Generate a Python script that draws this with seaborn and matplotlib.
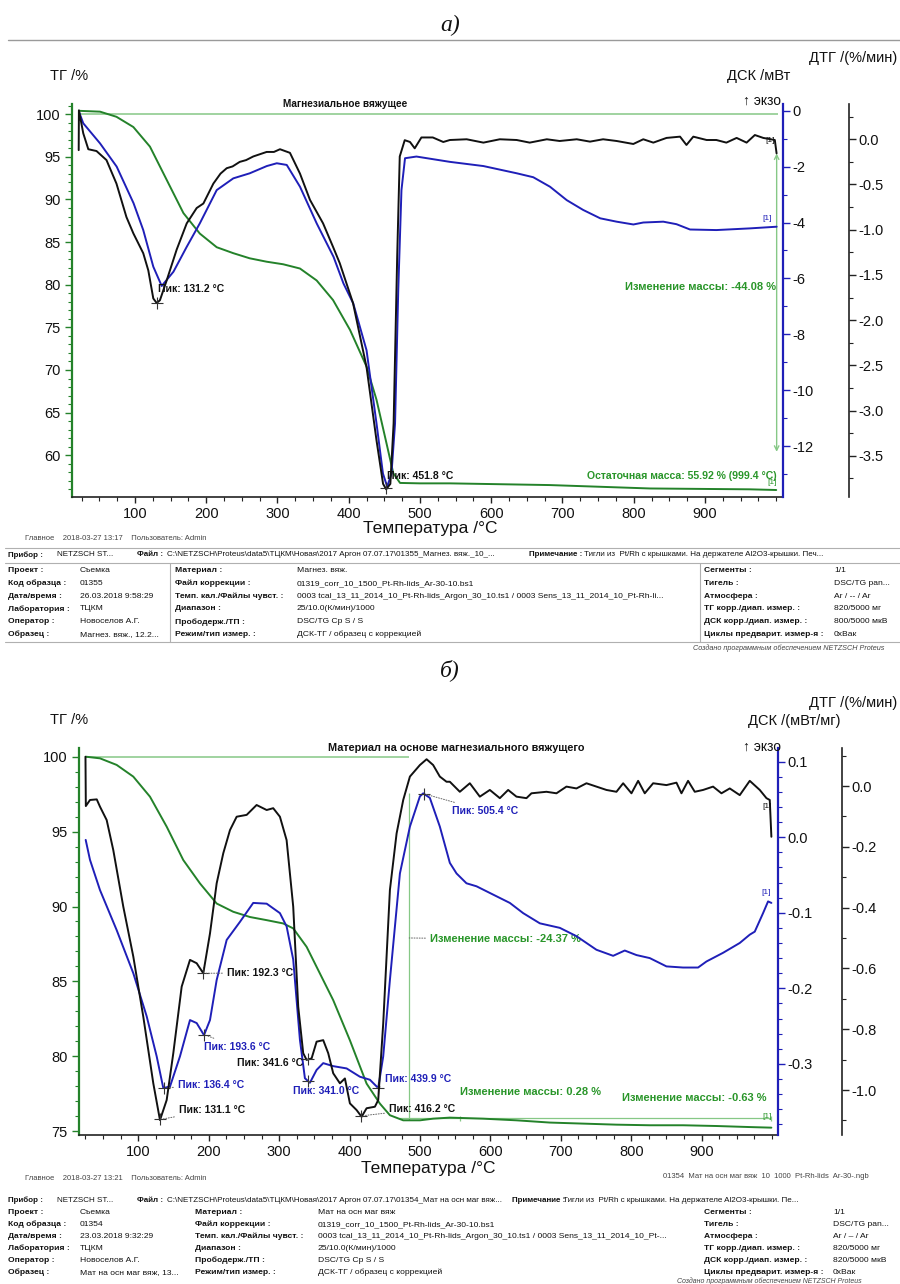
import numpy as np
import matplotlib
matplotlib.use("Agg")
import matplotlib.pyplot as plt
import seaborn as sns
from matplotlib.ticker import MultipleLocator, FixedLocator, FormatStrFormatter
from matplotlib.lines import Line2D

# ================= DATA: panel a) =================
A_TG_T = [21.4, 51, 74, 97.7, 121, 144.5, 168, 191, 214.7, 238, 261, 284.8, 308, 331.6, 355, 378,
          401.8, 425, 439, 453, 462.5, 472, 500, 542, 682, 823, 963, 1000]
A_TG = [100.4, 100.3, 99.7, 98.5, 96.2, 92.3, 88.4, 86.0, 84.4, 83.7, 83.1, 82.7, 82.4, 81.9, 80.5, 78.2,
        74.7, 70.4, 66.5, 61.4, 57.9, 56.75, 56.7, 56.7, 56.5, 56.1, 56.0, 55.92]

A_DSC_T = [21.4, 27.4, 51, 74.3, 98, 111.6, 125.7, 137.5, 154, 172.6, 191, 214.7, 238, 261, 285, 299,
           313, 331.6, 355, 378.7, 392.6, 406.4, 425, 439, 448, 454, 460, 465, 469.5, 474, 479, 495,
           542, 589, 636, 659, 682.5, 706, 729, 753, 776, 799.5, 813.4, 841.5, 860, 879, 916, 963, 1000.6]
A_DSC = [-0.04, -0.45, -1.17, -2.0, -3.31, -4.27, -5.58, -6.27, -5.76, -4.87, -4.03, -2.84, -2.42, -2.24,
         -1.98, -1.88, -1.94, -2.72, -4.03, -5.23, -6.18, -6.9, -8.57, -11.19, -12.98, -13.45, -12.98,
         -11.19, -6.42, -2.84, -1.70, -1.64, -1.83, -1.98, -2.24, -2.38, -2.72, -3.2, -3.55, -3.85, -3.97,
         -4.07, -4.0, -3.97, -4.06, -4.25, -4.27, -4.21, -4.15]

A_DTG_T = [21.0, 21.3, 27.4, 34.5, 46, 60, 74, 88, 97.7, 111.6, 118.7, 125.7, 130.4, 135, 144.5, 158.5,
           172.6, 186.6, 196, 210, 220, 228.7, 237, 247, 256, 266, 284.8, 295, 303.5, 317.5, 331.6,
           345.6, 364, 378, 387.4, 406, 425, 439, 448.2, 452.6, 458.4, 463, 468, 471.6, 478.6, 486,
           492.6, 502, 518, 532.7,
           542, 565.5, 589, 612, 635.7, 654, 678, 696, 720, 738.6, 757, 776, 799.4, 813.4, 827.5, 846,
           865, 874, 883.6, 902.3, 916, 930, 944.4, 958.4, 970, 981.8, 998, 1000.5]
A_DTG = [-0.12, 0.32, 0.066, -0.11, -0.13, -0.23, -0.49, -0.86, -1.04, -1.26, -1.45, -1.76, -1.81, -1.78,
         -1.56, -1.22, -0.93, -0.76, -0.71, -0.49, -0.38, -0.32, -0.30, -0.25, -0.23, -0.19, -0.14, -0.14,
         -0.11, -0.15, -0.38, -0.67, -0.93, -1.19, -1.37, -1.81, -2.52, -3.33, -3.81, -3.87, -3.81,
         -3.14, -1.30, -0.19, -0.01, -0.03, -0.10, 0.02, 0.02, -0.03,
         -0.008, 0.0, -0.037, 0.0, -0.008, -0.037, 0.0, -0.019, 0.0, -0.026, 0.0, -0.019, -0.052, 0.0,
         -0.037, 0.015, 0.029, -0.063, 0.029, -0.008, -0.008, -0.037, 0.015, -0.037, 0.047, 0.015,
         -0.008, -0.156]

A_DTG_PEAKS = [131.2, 451.8]
A_MASS_CHANGE = -44.08
A_RESIDUAL = 55.92
A_RESIDUAL_T = 999.4

# ================= DATA: panel б) =================
B_TG_T = [25.3, 45.6, 69.3, 92.9, 116.6, 140.3, 163.9, 187.6, 211.3, 234.8, 258.5, 282.3, 305.8, 320,
          339, 357.9, 376.8, 400.5, 424.2, 443, 457.3, 476.2, 500, 518.7, 542.4, 589.7, 637, 684.4,
          731.7, 779, 826.3, 873.6, 921, 968.3, 999]
B_TG = [100.0, 99.89, 99.45, 98.67, 97.33, 95.33, 93.1, 91.54, 90.2, 89.65, 89.3, 89.09, 88.87, 88.54,
        87.31, 85.53, 83.75, 81.07, 78.18, 76.85, 76.07, 75.73, 75.73, 75.84, 75.91, 75.84, 75.73, 75.58,
        75.51, 75.44, 75.40, 75.40, 75.35, 75.28, 75.24]

B_DSC_T = [25.3, 31.4, 45.6, 69.3, 92.9, 111.9, 126.1, 135.5, 145, 159.2, 173.4, 182.9, 193.3, 201.8,
           211.3, 225.5, 244.4, 263.2, 282.3, 301.1, 310.6, 320, 329.5, 336.6, 343.7, 353.2, 362.6,
           376.8, 395.8, 414.7, 428.9, 440.7, 447.8, 457.3, 471.5, 485.7, 499.9, 504.6, 514, 528.2,
           542.4, 551.9, 566, 580.3, 603.9, 627.6, 646.5, 670.2, 698.6, 722.2, 750.6, 774.3, 790.8,
           807.4, 826.3, 850, 873.6, 894.9, 906.8, 930.4, 954.1, 968.3, 975.4, 987.2, 994.3, 999]
B_DSC = [-0.0036, -0.030, -0.070, -0.123, -0.180, -0.237, -0.290, -0.332, -0.330, -0.290, -0.242,
         -0.246, -0.262, -0.242, -0.189, -0.136, -0.112, -0.087, -0.088, -0.1005, -0.118, -0.162,
         -0.268, -0.319, -0.325, -0.308, -0.299, -0.303, -0.306, -0.317, -0.321, -0.332, -0.290,
         -0.189, -0.048, 0.014, 0.054, 0.058, 0.052, 0.014, -0.034, -0.048, -0.061, -0.065, -0.076,
         -0.087, -0.1005, -0.114, -0.120, -0.131, -0.149, -0.157, -0.150, -0.156, -0.160, -0.171,
         -0.1725, -0.1725, -0.1645, -0.153, -0.140, -0.129, -0.125, -0.1005, -0.085, -0.087]

B_DTG_T = [25.0, 25.5, 31.4, 41, 45.6, 55.1, 64.5, 78.7, 92.9, 107.1, 121.3, 130.8, 140.3, 149.7, 161.6,
           173.4, 182.9, 192.3, 201.8, 211.3, 220.7, 230.2, 239.7, 253.9, 268, 282.3, 291.6, 301.1,
           310.6, 320, 327.1, 334.2, 339, 346.1, 353.2, 362.6, 369.7, 376.8, 386.3, 393.4, 400.5, 410,
           417.1, 424.2, 436, 440.7, 447.8, 457.3, 466.8, 476.2, 485.7, 499.9, 509.4, 518.7, 528.2,
           537.7, 542.4, 556.6, 570.8, 585, 599.2, 613.4, 625.2, 637, 651.2, 658.3, 679.6, 693.8, 708,
           722.2, 736.4, 750.6, 764.8, 779, 788.5, 800.3, 809.8, 819.2, 831.1, 850, 864.2, 871.3, 880.7,
           890.2, 902, 916.2, 928.1, 939.9, 954.1, 968.3, 982.5, 992, 996.7, 999]
B_DTG = [0.096, -0.066, -0.046, -0.044, -0.068, -0.112, -0.211, -0.397, -0.561, -0.759, -0.978, -1.099,
         -1.033, -0.879, -0.660, -0.572, -0.583, -0.616, -0.485, -0.320, -0.221, -0.145, -0.101, -0.095,
         -0.0625, -0.079, -0.073, -0.101, -0.178, -0.397, -0.726, -0.879, -0.901, -0.896, -0.841,
         -0.836, -0.879, -0.945, -0.978, -0.962, -1.044, -1.066, -1.088, -1.060, -1.055, -1.033,
         -0.781, -0.342, -0.156, -0.046, 0.031, 0.069, 0.088, 0.069, 0.031, 0.014, 0.014, -0.019,
         0.009, -0.035, -0.013, -0.040, -0.013, -0.035, -0.040, -0.024, -0.019, -0.024, -0.002,
         -0.008, 0.009, -0.002, -0.013, -0.019, 0.009, -0.024, 0.017, -0.024, 0.009, 0.003, 0.011,
         -0.024, 0.017, -0.019, -0.013, -0.002, -0.024, -0.008, -0.030, 0.017, -0.013, -0.040,
         -0.046, -0.167]

B_DTG_PEAKS = [131.1, 192.3, 341.6, 416.2]
B_DSC_PEAKS = [136.4, 193.6, 341.0, 439.9, 505.4]
B_MASS_CHANGES = [-24.37, 0.28, -0.63]

X_TICKS = [100, 200, 300, 400, 500, 600, 700, 800, 900]

# ================= STYLE =================
sns.set_style("ticks")
plt.rcParams['font.family'] = ['Liberation Sans', 'DejaVu Sans']
plt.rcParams['axes.unicode_minus'] = False

W, H = 900, 1284
fig = plt.figure(figsize=(W / 100, H / 100), dpi=100)

BLACK = '#111111'
BLUE = '#1f1fb8'
GREEN = '#24822a'
LGREEN = '#86c886'
TGREEN = '#2a962a'
TXT = '#111111'


def fx(x):
    return x / W


def fy(y):
    return 1 - y / H


def ftext(x, y, s, **kw):
    kw.setdefault('va', 'center')
    kw.setdefault('color', TXT)
    return fig.text(fx(x), fy(y), s, **kw)


def fline(x0, y0, x1, y1, **kw):
    fig.add_artist(Line2D([fx(x0), fx(x1)], [fy(y0), fy(y1)], **kw))


def make_panel(l, t, r, b, xlim, tglim, dsclim, dtglim, dtg_x,
               tg_major, dsc_major, dsc_minor, dtg_major, dtg_minor, dsc_fmt):
    ax = fig.add_axes([fx(l), fy(b), (r - l) / W, (b - t) / H])
    ax2 = ax.twinx()
    ax3 = ax.twinx()
    for a in (ax, ax2, ax3):
        for s in a.spines.values():
            s.set_visible(False)
        a.set_facecolor('none')
    ax.spines['left'].set_visible(True)
    ax.spines['left'].set_color(GREEN)
    ax.spines['left'].set_linewidth(1.6)
    ax.spines['bottom'].set_visible(True)
    ax.spines['bottom'].set_color('#222222')
    ax.spines['bottom'].set_linewidth(1.2)
    ax2.spines['right'].set_visible(True)
    ax2.spines['right'].set_color(BLUE)
    ax2.spines['right'].set_linewidth(1.6)
    ax3.spines['right'].set_visible(True)
    ax3.spines['right'].set_color('#222222')
    ax3.spines['right'].set_linewidth(1.2)
    ax3.spines['right'].set_position(('axes', (dtg_x - l) / (r - l)))

    ax.set_xlim(*xlim)
    ax.set_ylim(*tglim)
    ax2.set_ylim(*dsclim)
    ax3.set_ylim(*dtglim)

    ax.xaxis.set_major_locator(FixedLocator(X_TICKS))
    ax.xaxis.set_minor_locator(MultipleLocator(25))
    ax.xaxis.set_major_formatter(FormatStrFormatter('%d'))
    ax.tick_params(axis='x', which='major', length=4, width=1, colors='#222222',
                   labelcolor=TXT, labelsize=10.5, pad=3)
    ax.tick_params(axis='x', which='minor', length=3, width=0.8, colors='#222222')

    ax.yaxis.set_major_locator(MultipleLocator(tg_major))
    ax.yaxis.set_minor_locator(MultipleLocator(1))
    ax.yaxis.set_major_formatter(FormatStrFormatter('%d'))
    ax.tick_params(axis='y', which='major', length=5, width=1, colors=GREEN,
                   labelcolor=TXT, labelsize=10.5, pad=3)
    ax.tick_params(axis='y', which='minor', length=3, width=0.8, colors=GREEN)

    ax2.yaxis.set_major_locator(MultipleLocator(dsc_major))
    ax2.yaxis.set_minor_locator(MultipleLocator(dsc_minor))
    ax2.yaxis.set_major_formatter(FormatStrFormatter(dsc_fmt))
    ax2.tick_params(axis='y', which='major', length=5, width=1, colors=BLUE,
                    labelcolor=TXT, labelsize=10.5, pad=2)
    ax2.tick_params(axis='y', which='minor', length=3, width=0.8, colors=BLUE)

    ax3.yaxis.set_major_locator(MultipleLocator(dtg_major))
    ax3.yaxis.set_minor_locator(MultipleLocator(dtg_minor))
    ax3.yaxis.set_major_formatter(FormatStrFormatter('%.1f'))
    ax3.tick_params(axis='y', which='major', length=5, width=1, colors='#222222',
                    labelcolor=TXT, labelsize=10.5, pad=2)
    ax3.tick_params(axis='y', which='minor', length=3, width=0.8, colors='#222222')
    return ax, ax2, ax3


def curve(a, xs, ys, color, lw=1.3):
    sns.lineplot(x=xs, y=ys, ax=a, color=color, lw=lw, sort=False, estimator=None)
    a.set_xlabel('')
    a.set_ylabel('')


def peak(a, xs, ys, t, color, text_xy, label_color, leader=True):
    v = float(np.interp(t, xs, ys))
    a.plot([t], [v], marker='+', ms=9, mew=0.8, color='#333333', ls='none', zorder=5)
    arrow = dict(arrowstyle='-', linestyle=':', lw=0.7, color='#666666', shrinkA=1, shrinkB=2) if leader else None
    a.annotate(f"Пик: {t:.1f} °C", xy=(t, v), xytext=(text_xy[0], H - text_xy[1]),
               textcoords='figure pixels', ha='left', va='center', fontsize=7.5,
               fontweight='bold', color=label_color, arrowprops=arrow, zorder=6)


TFS = 6.1
RFS = 5.8


def table(row0_y, row0, rows_y, cols_x, left, mid, right):
    for x, s, bold in row0:
        ftext(x, row0_y, s, ha='left', fontsize=RFS, fontweight='bold' if bold else 'normal')
    for i, yy in enumerate(rows_y):
        for (lx, vx), (lab, val) in zip(cols_x, [left[i], mid[i], right[i]]):
            ftext(lx, yy, lab, ha='left', fontsize=TFS, fontweight='bold')
            ftext(vx, yy, val, ha='left', fontsize=TFS)


# ================= PANEL a) =================
ftext(450, 25, "а)", ha='center', fontsize=17, family='Liberation Serif', style='italic')
fline(8, 40, 900, 40, color='#9a9a9a', lw=1)

axA, axA2, axA3 = make_panel(72, 104, 783, 497, (11.6, 1009.5), (55.1, 101.2), (-13.82, 0.24),
                             (-3.955, 0.39), 849, 5, 2, 1, 0.5, 0.25, '%d')

axA.hlines(100, A_TG_T[0], 1002, color=LGREEN, lw=1.1)
curve(axA, A_TG_T, A_TG, GREEN, 1.4)
curve(axA2, A_DSC_T, A_DSC, BLUE, 1.4)
curve(axA3, A_DTG_T, A_DTG, BLACK, 1.4)

axA.annotate('', xy=(1000.6, 60.4), xytext=(1000.6, 95.4),
             arrowprops=dict(arrowstyle='<->', color=LGREEN, lw=1, mutation_scale=8, shrinkA=0, shrinkB=0))
ftext(776, 287, f"Изменение массы: {A_MASS_CHANGE:.2f} %", ha='right', color=TGREEN,
      fontsize=8, fontweight='bold')
ftext(777, 476, f"Остаточная масса: {A_RESIDUAL:.2f} % ({A_RESIDUAL_T:.1f} °C)", ha='right',
      color=TGREEN, fontsize=7.6, fontweight='bold')

peak(axA3, A_DTG_T, A_DTG, A_DTG_PEAKS[0], BLACK, (158, 289), TXT, leader=False)
peak(axA3, A_DTG_T, A_DTG, A_DTG_PEAKS[1], BLACK, (387, 476), TXT, leader=False)

ftext(767, 218, "[1]", ha='center', fontsize=6, color=BLUE)
ftext(770, 140, "[1]", ha='center', fontsize=6, color=TXT)
ftext(772, 482, "[1]", ha='center', fontsize=6, color=TGREEN)

ftext(345, 104, "Магнезиальное вяжущее", ha='center', fontsize=7.2, fontweight='bold')
ftext(50, 76, "ТГ /%", ha='left', fontsize=10.5)
ftext(897, 58, "ДТГ /(%/мин)", ha='right', fontsize=10.5)
ftext(790, 76, "ДСК /мВт", ha='right', fontsize=10.5)
ftext(781, 101, "↑ экзо", ha='right', fontsize=10, family=['Liberation Sans', 'DejaVu Sans'])
ftext(430, 528, "Температура /°C", ha='center', fontsize=12.5)

ftext(25, 539, "Главное    2018-03-27 13:17    Пользователь: Admin", ha='left', fontsize=5.5,
      color='#444444')

# table a)
for yy in (548, 563, 642):
    fline(5, yy, 900, yy, color='#b0b0b0', lw=0.8)
fline(170, 563, 170, 642, color='#b0b0b0', lw=0.8)
fline(700, 563, 700, 642, color='#b0b0b0', lw=0.8)

A_ROW0 = [(8, "Прибор :", True), (57, "NETZSCH ST...", False), (137, "Файл :", True),
          (167, r"C:\NETZSCH\Proteus\data5\ТЦКМ\Новая\2017 Аргон 07.07.17\01355_Магнез. вяж._10_...", False),
          (529, "Примечание :", True),
          (584, "Тигли из  Pt/Rh с крышками. На держателе Al2O3-крышки. Печ...", False)]
A_LEFT = [("Проект :", "Съемка"), ("Код образца :", "01355"), ("Дата/время :", "26.03.2018 9:58:29"),
          ("Лаборатория :", "ТЦКМ"), ("Оператор :", "Новоселов А.Г."), ("Образец :", "Магнез. вяж., 12.2...")]
A_MID = [("Материал :", "Магнез. вяж."), ("Файл коррекции :", "01319_corr_10_1500_Pt-Rh-lids_Ar-30-10.bs1"),
         ("Темп. кал./Файлы чувст. :",
          "0003 tcal_13_11_2014_10_Pt-Rh-lids_Argon_30_10.ts1 / 0003 Sens_13_11_2014_10_Pt-Rh-li..."),
         ("Диапазон :", "25/10.0(К/мин)/1000"), ("Прободерж./ТП :", "DSC/TG Cp S / S"),
         ("Режим/тип измер. :", "ДСК-ТГ / образец с коррекцией")]
A_RIGHT = [("Сегменты :", "1/1"), ("Тигель :", "DSC/TG pan..."), ("Атмосфера :", "Ar / -- / Ar"),
           ("ТГ корр./диап. измер. :", "820/5000 мг"), ("ДСК корр./диап. измер. :", "800/5000 мкВ"),
           ("Циклы предварит. измер-я :", "0xВак")]

table(555, A_ROW0, [571, 583.5, 596.3, 609, 621.8, 634.6], [(8, 80), (175, 297), (704, 834)],
      A_LEFT, A_MID, A_RIGHT)
ftext(693, 648, "Создано программным обеспечением NETZSCH Proteus", ha='left', fontsize=5.2,
      style='italic', color='#444444')

# ================= PANEL б) =================
ftext(450, 670, "б)", ha='center', fontsize=17, family='Liberation Serif', style='italic')

axB, axB2, axB3 = make_panel(79, 748, 778, 1135, (15.8, 1008.4), (74.75, 100.58), (-0.3941, 0.118),
                             (-1.148, 0.125), 842, 5, 0.1, 0.02, 0.2, 0.1, '%.1f')

axB.hlines(100, B_TG_T[0], 484, color=LGREEN, lw=1.1)
axB.vlines(484.7, 75.73, 97.6, color=LGREEN, lw=0.9)
axB.hlines(75.88, 470, 999, color=LGREEN, lw=0.9)
axB.vlines([557, 999], 75.7, 76.05, color=LGREEN, lw=0.9)
curve(axB, B_TG_T, B_TG, GREEN, 1.4)
curve(axB2, B_DSC_T, B_DSC, BLUE, 1.4)
curve(axB3, B_DTG_T, B_DTG, BLACK, 1.4)

axB.annotate(f"Изменение массы: {B_MASS_CHANGES[0]:.2f} %", xy=(484.7, 87.9), xytext=(430, H - 939),
             textcoords='figure pixels', ha='left', va='center', fontsize=8, fontweight='bold',
             color=TGREEN, arrowprops=dict(arrowstyle='-', linestyle=':', lw=0.7, color='#666666',
                                           shrinkA=1, shrinkB=0))
ftext(460, 1092, f"Изменение массы: {B_MASS_CHANGES[1]:.2f} %", ha='left', color=TGREEN, fontsize=8,
      fontweight='bold')
ftext(622, 1098, f"Изменение массы: {B_MASS_CHANGES[2]:.2f} %", ha='left', color=TGREEN, fontsize=8,
      fontweight='bold')

B_DTG_LABEL_XY = [(179, 1110), (227, 973), (237, 1063), (389, 1109)]
for t, xy in zip(B_DTG_PEAKS, B_DTG_LABEL_XY):
    peak(axB3, B_DTG_T, B_DTG, t, BLACK, xy, TXT)
B_DSC_LABEL_XY = [(178, 1085), (204, 1047), (293, 1091), (385, 1079), (452, 811)]
for t, xy in zip(B_DSC_PEAKS, B_DSC_LABEL_XY):
    peak(axB2, B_DSC_T, B_DSC, t, BLUE, xy, BLUE)

ftext(767, 807, "[1]", ha='center', fontsize=6, color=TXT)
ftext(766, 892, "[1]", ha='center', fontsize=6, color=BLUE)
ftext(767, 1117, "[1]", ha='center', fontsize=6, color=TGREEN)

ftext(456, 748, "Материал на основе магнезиального вяжущего", ha='center', fontsize=7.8, fontweight='bold')
ftext(50, 720, "ТГ /%", ha='left', fontsize=10.5)
ftext(897, 703, "ДТГ /(%/мин)", ha='right', fontsize=10.5)
ftext(840, 721, "ДСК /(мВт/мг)", ha='right', fontsize=10.5)
ftext(781, 747, "↑ экзо", ha='right', fontsize=10, family=['Liberation Sans', 'DejaVu Sans'])
ftext(428, 1168, "Температура /°C", ha='center', fontsize=12.5)

ftext(25, 1178, "Главное    2018-03-27 13:21    Пользователь: Admin", ha='left', fontsize=5.5,
      color='#444444')
ftext(663, 1177, "01354  Мат на осн маг вяж  10  1000  Pt-Rh-lids  Ar-30-.ngb", ha='left', fontsize=5.5,
      color='#444444')

B_ROW0 = [(8, "Прибор :", True), (57, "NETZSCH ST...", False), (137, "Файл :", True),
          (167, r"C:\NETZSCH\Proteus\data5\ТЦКМ\Новая\2017 Аргон 07.07.17\01354_Мат на осн маг вяж...", False),
          (512, "Примечание :", True),
          (563, "Тигли из  Pt/Rh с крышками. На держателе Al2O3-крышки. Пе...", False)]
B_LEFT = [("Проект :", "Съемка"), ("Код образца :", "01354"), ("Дата/время :", "23.03.2018 9:32:29"),
          ("Лаборатория :", "ТЦКМ"), ("Оператор :", "Новоселов А.Г."), ("Образец :", "Мат на осн маг вяж, 13...")]
B_MID = [("Материал :", "Мат на осн маг вяж"), ("Файл коррекции :", "01319_corr_10_1500_Pt-Rh-lids_Ar-30-10.bs1"),
         ("Темп. кал./Файлы чувст. :",
          "0003 tcal_13_11_2014_10_Pt-Rh-lids_Argon_30_10.ts1 / 0003 Sens_13_11_2014_10_Pt-..."),
         ("Диапазон :", "25/10.0(К/мин)/1000"), ("Прободерж./ТП :", "DSC/TG Cp S / S"),
         ("Режим/тип измер. :", "ДСК-ТГ / образец с коррекцией")]
B_RIGHT = [("Сегменты :", "1/1"), ("Тигель :", "DSC/TG pan..."), ("Атмосфера :", "Ar / – / Ar"),
           ("ТГ корр./диап. измер. :", "820/5000 мг"), ("ДСК корр./диап. измер. :", "820/5000 мкВ"),
           ("Циклы предварит. измер-я :", "0xВак")]

table(1200, B_ROW0, [1212.5, 1224.5, 1236.5, 1248.5, 1260.5, 1272.5], [(8, 80), (195, 318), (704, 833)],
      B_LEFT, B_MID, B_RIGHT)
ftext(677, 1281, "Создано программным обеспечением NETZSCH Proteus", ha='left', fontsize=5.0,
      style='italic', color='#444444')

fig.savefig("out.png", dpi=100, facecolor='white')
